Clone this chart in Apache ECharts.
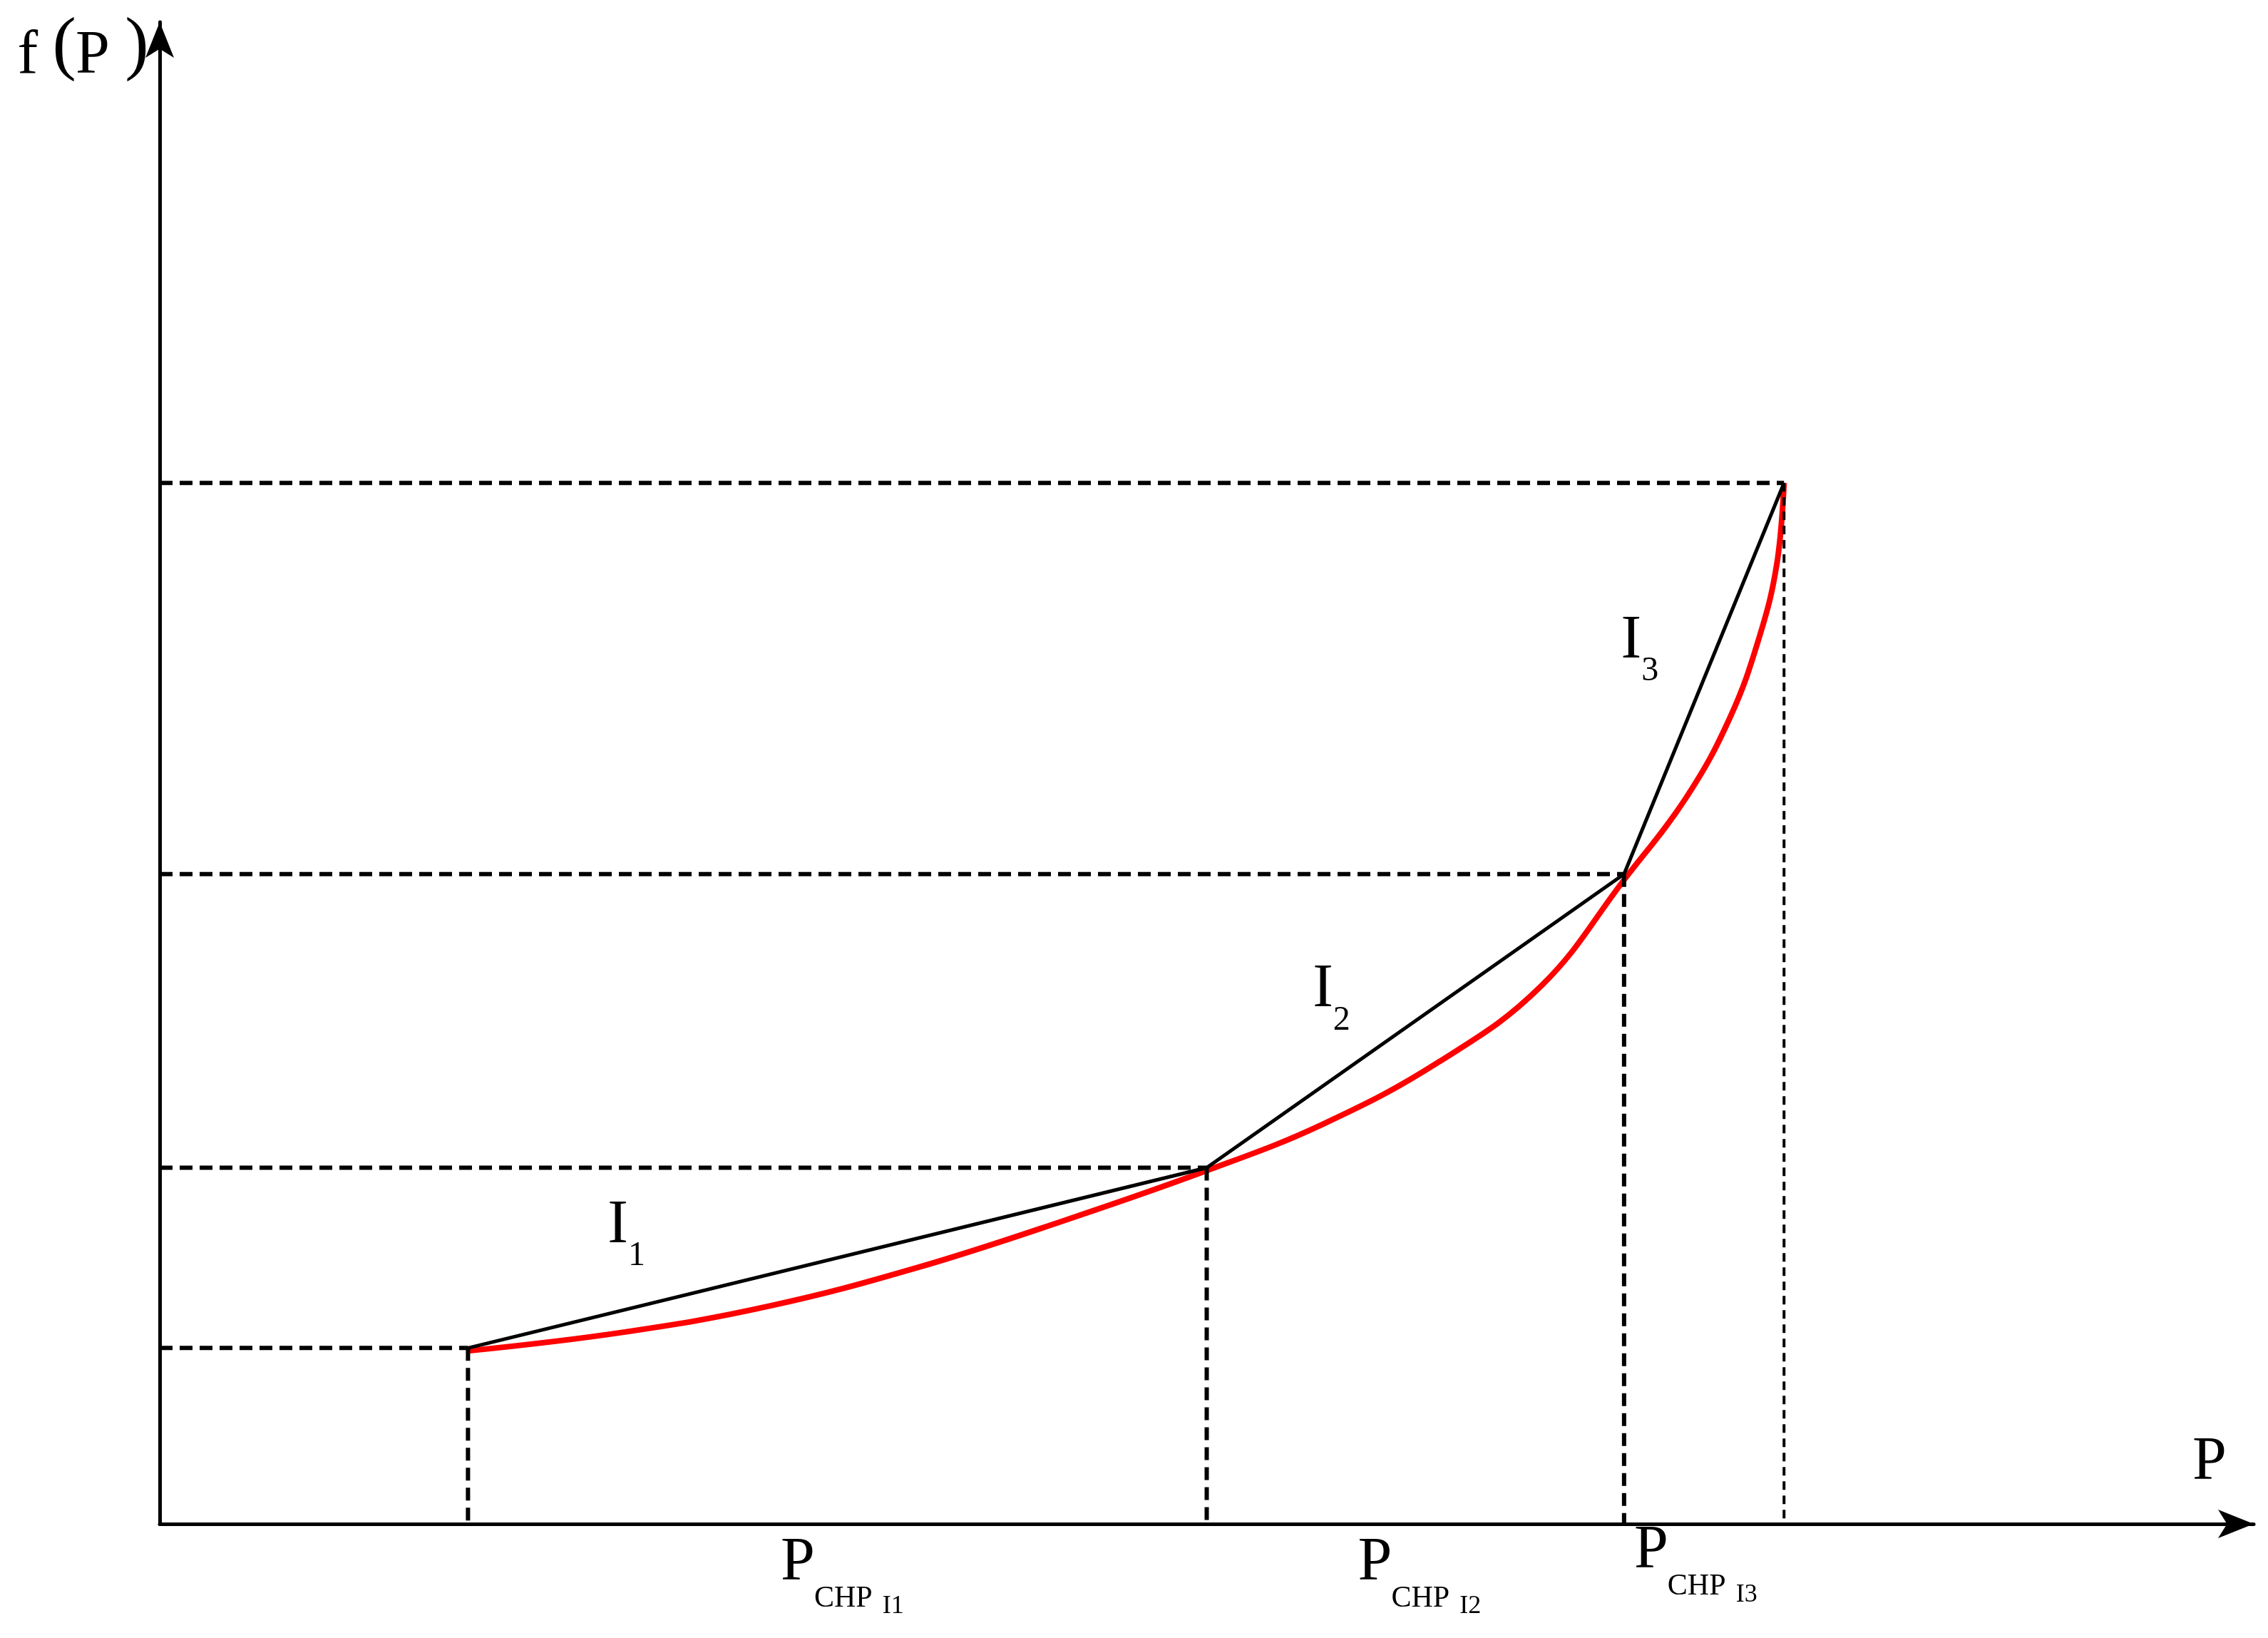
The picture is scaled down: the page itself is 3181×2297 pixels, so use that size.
<!DOCTYPE html>
<html>
<head>
<meta charset="utf-8">
<script src="https://cdn.jsdelivr.net/npm/echarts@6/dist/echarts.min.js"></script>
<style>html,body{margin:0;padding:0;background:#fff}#main{width:3181px;height:2297px}</style>
</head>
<body>
<div id="main"></div>
<script>
// breakpoints of the piecewise linearisation (abstract units)
var breakX = [212, 720, 1007, 1117];
var breakY = [121, 245, 447, 716];
// the true cost curve f(P)
var curveX = [212, 320, 420, 520, 620, 720, 800, 880, 950, 1007, 1050, 1080, 1100, 1112, 1117];
var curveY = [119, 132, 150, 176, 208, 243, 275, 318, 370, 443, 500, 555, 610, 660, 716];
var segNames = ['I', 'I', 'I'];
var segSubs = ['1', '2', '3'];
var pLabels = ['I1', 'I2', 'I3'];

var S = 3181 / 1560; // picture was measured at 1560 wide
var serif = '"Liberation Serif", "DejaVu Serif", serif';

var chart = echarts.init(document.getElementById('main'));

var series = [];
// red curve
series.push({
  type: 'line', smooth: 0.4, symbol: 'none',
  data: curveX.map(function (x, i) { return [x, curveY[i]]; }),
  lineStyle: { color: '#ff0000', width: 8 }, z: 3
});
// black chords
series.push({
  type: 'line', symbol: 'none',
  data: breakX.map(function (x, i) { return [x, breakY[i]]; }),
  lineStyle: { color: '#000', width: 5 }, z: 4
});
// dashed guides
breakX.forEach(function (x, i) {
  var last = i === breakX.length - 1;
  series.push({
    type: 'line', symbol: 'none',
    data: [[0, breakY[i]], [x, breakY[i]]],
    lineStyle: { color: '#000', width: 6, type: [18, 10] }
  });
  series.push({
    type: 'line', symbol: 'none',
    data: [[x, breakY[i]], [x, 0]],
    lineStyle: { color: '#000', width: last ? 4 : 6, type: last ? [12, 8] : [18, 10] }
  });
});

function txt(x, y, s, size) {
  return { type: 'text', left: x * S, top: y * S,
    style: { text: s, font: size + 'px ' + serif, fill: '#000' } };
}
var graphics = [];
graphics.push(txt(12, 18, 'f', 86));
graphics.push(txt(36, 8, '(', 100));
graphics.push(txt(52, 18, 'P', 86));
graphics.push(txt(86, 8, ')', 100));
graphics.push(txt(1508, 985, 'P', 86));
var segPos = [[418, 822], [903, 660], [1115, 420]];
segPos.forEach(function (p, i) {
  graphics.push(txt(p[0], p[1], segNames[i], 86));
  graphics.push(txt(p[0] + 14, p[1] + 30, segSubs[i], 48));
});
var pPos = [[537, 1054], [934, 1054], [1124, 1046]];
pPos.forEach(function (p, i) {
  graphics.push(txt(p[0], p[1], 'P', 86));
  graphics.push(txt(p[0] + 23, p[1] + 35, 'CHP', 42));
  graphics.push(txt(p[0] + 70, p[1] + 42, pLabels[i], 36));
});

chart.setOption({
  animation: false,
  grid: { left: 224, right: 20, top: 31, bottom: 160 },
  xAxis: {
    type: 'value', min: 0, max: 1440,
    axisLine: { lineStyle: { color: '#000', width: 5 }, symbol: ['none', 'arrow'], symbolSize: [30, 50] },
    axisTick: { show: false }, axisLabel: { show: false }, splitLine: { show: false }
  },
  yAxis: {
    type: 'value', min: 0, max: 1033,
    axisLine: { lineStyle: { color: '#000', width: 5 }, symbol: ['none', 'arrow'], symbolSize: [30, 50] },
    axisTick: { show: false }, axisLabel: { show: false }, splitLine: { show: false }
  },
  series: series,
  graphic: graphics
});
</script>
</body>
</html>
